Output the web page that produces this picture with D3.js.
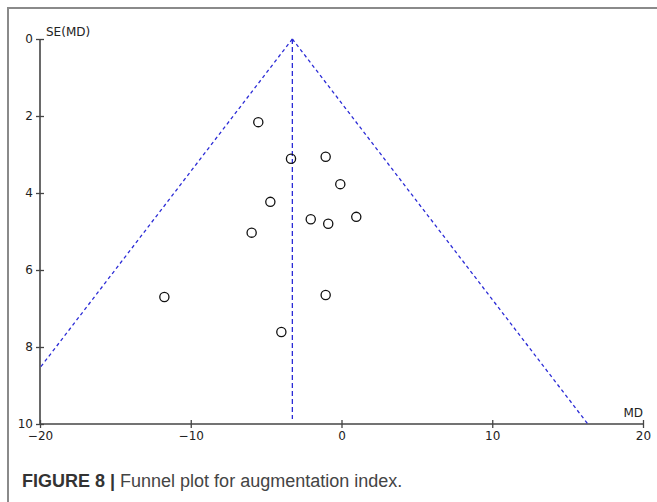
<!DOCTYPE html>
<html>
<head>
<meta charset="utf-8">
<script src="https://cdn.jsdelivr.net/npm/d3@7"></script>
<style>
  html, body { margin: 0; padding: 0; background: #fff; }
  svg { display: block; }
</style>
</head>
<body>
<svg id="chart" width="657" height="502"></svg>
<script>
// Study estimates (mean difference) and their standard errors
const md = [-5.52, -3.35, -1.05, -0.08, -4.72, -2.04, -0.88, 0.98, -5.96, -11.75, -1.05, -3.99];
const se = [2.16, 3.11, 3.06, 3.77, 4.23, 4.68, 4.80, 4.62, 5.03, 6.70, 6.65, 7.61];
const pooled = -3.26;
const xTicks = [-20, -10, 0, 10, 20];
const yTicks = [0, 2, 4, 6, 8, 10];
const xDomain = [-20, 20];
const yDomain = [0, 10];
const z = 1.96;

const svg = d3.select("#chart");

// page frame
svg.append("line").attr("x1", 8).attr("x2", 657).attr("y1", 8).attr("y2", 8)
  .attr("stroke", "#8a8a8a").attr("stroke-width", 2);
svg.append("line").attr("x1", 8).attr("x2", 8).attr("y1", 7).attr("y2", 502)
  .attr("stroke", "#8a8a8a").attr("stroke-width", 2);

const x = d3.scaleLinear().domain(xDomain).range([40, 643]);
const y = d3.scaleLinear().domain(yDomain).range([39, 424]);

const axisColor = "#444";
const fontFam = "'DejaVu Sans', Verdana, sans-serif";

// y axis
const gy = svg.append("g").attr("transform", `translate(${x(xDomain[0])},0)`)
  .call(d3.axisLeft(y).tickValues(yTicks).tickFormat(d3.format("d")).tickSize(4).tickPadding(3));
gy.select(".domain").attr("stroke", axisColor).attr("stroke-width", 1.6)
  .attr("d", `M0,${y(0)}V${y(10)}`);
gy.selectAll(".tick line").attr("x1", -4).attr("x2", 4).attr("stroke", axisColor).attr("stroke-width", 1.3);
gy.selectAll(".tick text").attr("font-family", fontFam).attr("font-size", 12).attr("fill", "#222");

// x axis
const gx = svg.append("g").attr("transform", `translate(0,${y(yDomain[1])})`)
  .call(d3.axisBottom(x).tickValues(xTicks).tickSize(4).tickPadding(3));
gx.select(".domain").attr("stroke", axisColor).attr("stroke-width", 1.6)
  .attr("d", `M${x(-20)},0H${x(20)}`);
gx.selectAll(".tick line").attr("y1", -4).attr("y2", 4).attr("stroke", axisColor).attr("stroke-width", 1.3);
gx.selectAll(".tick text").attr("font-family", fontFam).attr("font-size", 12).attr("fill", "#222");

// axis titles
svg.append("text").attr("x", x(xDomain[0]) + 6).attr("y", y(0) - 3)
  .attr("font-family", fontFam).attr("font-size", 12).attr("fill", "#222").text("SE(MD)");
svg.append("text").attr("x", x(xDomain[1])).attr("y", y(10) - 7).attr("text-anchor", "end")
  .attr("font-family", fontFam).attr("font-size", 12).attr("fill", "#222").text("MD");

// funnel lines
const blue = "#2b2bd6";
const seLeft = Math.min(yDomain[1], (pooled - xDomain[0]) / z);
const seRight = Math.min(yDomain[1], (xDomain[1] - pooled) / z);
const funnel = [
  [[pooled, 0], [pooled - z * seLeft, seLeft]],
  [[pooled, 0], [pooled + z * seRight, seRight]],
  [[pooled, 0], [pooled, 9.87]]
];
svg.append("g").selectAll("line").data(funnel).join("line")
  .attr("x1", d => x(d[0][0])).attr("y1", d => y(d[0][1]))
  .attr("x2", d => x(d[1][0])).attr("y2", d => y(d[1][1]))
  .attr("stroke", blue).attr("stroke-width", 1.3)
  .attr("stroke-dasharray", (d, i) => i === 2 ? "5,3" : "3.5,3");

// study points
svg.append("g").selectAll("circle").data(md.map((m, i) => [m, se[i]])).join("circle")
  .attr("cx", d => x(d[0])).attr("cy", d => y(d[1])).attr("r", 4.6)
  .attr("fill", "none").attr("stroke", "#111").attr("stroke-width", 1.3);

// caption
const cap = svg.append("text").attr("x", 22).attr("y", 486.5)
  .attr("font-family", "'Liberation Sans', Arial, Helvetica, sans-serif").attr("font-size", 18);
cap.append("tspan").attr("font-weight", "bold").attr("fill", "#333").text("FIGURE 8 | ");
cap.append("tspan").attr("fill", "#444").text("Funnel plot for augmentation index.");
</script>
</body>
</html>
